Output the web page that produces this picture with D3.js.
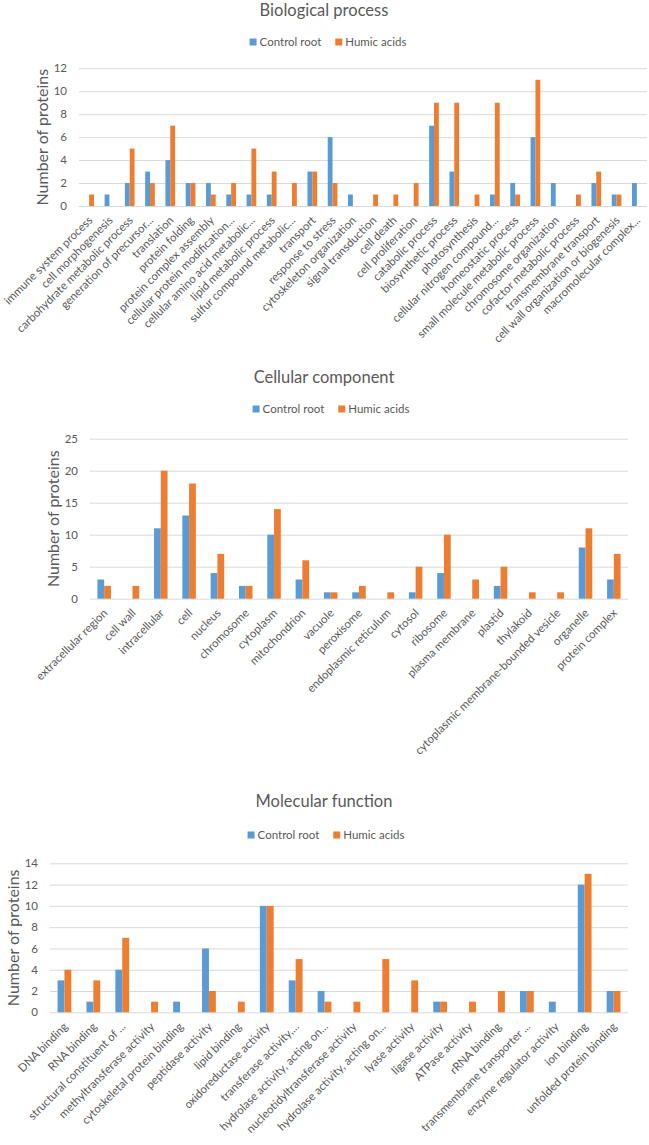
<!DOCTYPE html>
<html><head><meta charset="utf-8">
<script src="https://cdn.jsdelivr.net/npm/d3@7"></script>
<style>
body{margin:0;background:#fff}
svg{display:block}
text{font-family:Lato,"Open Sans",sans-serif;fill:#595959}
</style>
</head><body>
<svg id="c" width="649" height="1145"></svg>
<script>
const seriesNames = ["Control root", "Humic acids"];
const seriesColors = ["#5B9BD5", "#ED7D31"];

// Biological process
const bpCategories = ["immune system process","cell morphogenesis","carbohydrate metabolic process","generation of precursor...","translation","protein folding","protein complex assembly","cellular protein modification...","cellular amino acid metabolic...","lipid metabolic process","sulfur compound metabolic...","transport","response to stress","cytoskeleton organization","signal transduction","cell death","cell proliferation","catabolic process","biosynthetic process","photosynthesis","cellular nitrogen compound...","homeostatic process","small molecule metabolic process","chromosome organization","cofactor metabolic process","transmembrane transport","cell wall organization or biogenesis","macromolecular complex..."];
const bpControl = [0,1,2,3,4,2,2,1,1,1,0,3,6,1,0,0,0,7,3,0,1,2,6,2,0,2,1,2];
const bpHumic   = [1,0,5,2,7,2,1,2,5,3,2,3,2,0,1,1,2,9,9,1,9,1,11,0,1,3,1,0];
const bpTicks = [0,2,4,6,8,10,12];

// Cellular component
const ccCategories = ["extracellular region","cell wall","intracellular","cell","nucleus","chromosome","cytoplasm","mitochondrion","vacuole","peroxisome","endoplasmic reticulum","cytosol","ribosome","plasma membrane","plastid","thylakoid","cytoplasmic membrane-bounded vesicle","organelle","protein complex"];
const ccControl = [3,0,11,13,4,2,10,3,1,1,0,1,4,0,2,0,0,8,3];
const ccHumic   = [2,2,20,18,7,2,14,6,1,2,1,5,10,3,5,1,1,11,7];
const ccTicks = [0,5,10,15,20,25];

// Molecular function
const mfCategories = ["DNA binding","RNA binding","structural constituent of ...","methyltransferase activity","cytoskeletal protein binding","peptidase activity","lipid binding","oxidoreductase activity","transferase activity,...","hydrolase activity, acting on...","nucleotidyltransferase activity","hydrolase activity, acting on...","lyase activity","ligase activity","ATPase activity","rRNA binding","transmembrane transporter ...","enzyme regulator activity","ion binding","unfolded protein binding"];
const mfControl = [3,1,4,0,1,6,0,10,3,2,0,0,0,1,0,0,2,1,12,2];
const mfHumic   = [4,3,7,1,0,2,1,10,5,1,1,5,3,1,1,2,2,0,13,2];
const mfTicks = [0,2,4,6,8,10,12,14];

const svg = d3.select("#c");

// pick a label font size whose width matches the reference label length
function fitSize(str, target, base) {
  const t = svg.append("text").style("font-size", base + "px").text(str);
  const w = t.node().getComputedTextLength();
  t.remove();
  return base * target / w;
}
const labelSize = fitSize("carbohydrate metabolic process", 159, 12);

function drawChart(o) {
  const g = svg.append("g");
  const n = o.categories.length;
  const x = d3.scaleBand().domain(d3.range(n)).range([o.x0, o.x1]).padding(0);
  const step = x.step();
  const bw = step / 4.19;
  const xs = d3.scaleBand().domain([0, 1]).range([-bw, bw]).padding(0);
  const y = d3.scaleLinear().domain([0, d3.max(o.ticks)]).range([o.yB, o.yT]);

  // title
  g.append("text").attr("x", 324).attr("y", o.titleY).attr("text-anchor", "middle")
    .style("font-size", "16.5px").text(o.title);

  // legend
  const lg = g.append("g");
  let lx = 0;
  seriesNames.forEach((s, i) => {
    const it = lg.append("g").attr("transform", `translate(${lx},0)`);
    it.append("rect").attr("x", 0).attr("y", -3.5).attr("width", 7).attr("height", 7).attr("fill", seriesColors[i]);
    const t = it.append("text").attr("x", 10).attr("y", 0).attr("dy", "0.35em").style("font-size", "11.5px").text(s);
    lx += 10 + t.node().getComputedTextLength() + 14;
  });
  const lw = lx - 14;
  lg.attr("transform", `translate(${o.legendCX - lw / 2},${o.legendY})`);

  // gridlines + tick labels
  const yAxis = d3.axisLeft(y).tickValues(o.ticks).tickSize(-(o.x1 - o.x0)).tickPadding(12).tickFormat(d3.format("d"));
  const ag = g.append("g").attr("transform", `translate(${o.x0},0)`).call(yAxis);
  ag.select(".domain").remove();
  ag.selectAll(".tick line").attr("stroke", "#D9D9D9").attr("stroke-width", 1);
  ag.selectAll(".tick text").style("font-size", "11.5px").attr("fill", "#595959").style("font-family", "Lato");

  // bars
  const series = [o.control, o.humic];
  series.forEach((vals, si) => {
    g.append("g").selectAll("rect").data(vals).join("rect")
      .attr("x", (d, i) => x(i) + step / 2 + xs(si))
      .attr("width", xs.bandwidth())
      .attr("y", d => y(d))
      .attr("height", d => y(0) - y(d))
      .attr("fill", seriesColors[si]);
  });

  // category labels
  g.append("g").selectAll("text").data(o.categories).join("text")
    .attr("text-anchor", "end")
    .attr("transform", (d, i) => `translate(${x(i) + step / 2 + 4},${o.yB + 15}) rotate(-45)`)
    .style("font-size", labelSize + "px")
    .text(d => d);

  // y title
  g.append("text")
    .attr("transform", `translate(${o.x0 - 37},${(o.yT + o.yB) / 2}) rotate(-90)`)
    .attr("text-anchor", "middle").attr("dy", "0.35em")
    .style("font-size", "16px").text("Number of proteins");
}

drawChart({title: "Biological process", categories: bpCategories, control: bpControl, humic: bpHumic, ticks: bpTicks,
  titleY: 16, legendY: 42, legendCX: 328, x0: 79, x1: 647, yT: 68.3, yB: 206});
drawChart({title: "Cellular component", categories: ccCategories, control: ccControl, humic: ccHumic, ticks: ccTicks,
  titleY: 383, legendY: 409, legendCX: 331, x0: 90, x1: 628, yT: 438.7, yB: 598.7});
drawChart({title: "Molecular function", categories: mfCategories, control: mfControl, humic: mfHumic, ticks: mfTicks,
  titleY: 807, legendY: 835, legendCX: 326, x0: 50, x1: 628, yT: 863.3, yB: 1012.3});
</script>
</body></html>
